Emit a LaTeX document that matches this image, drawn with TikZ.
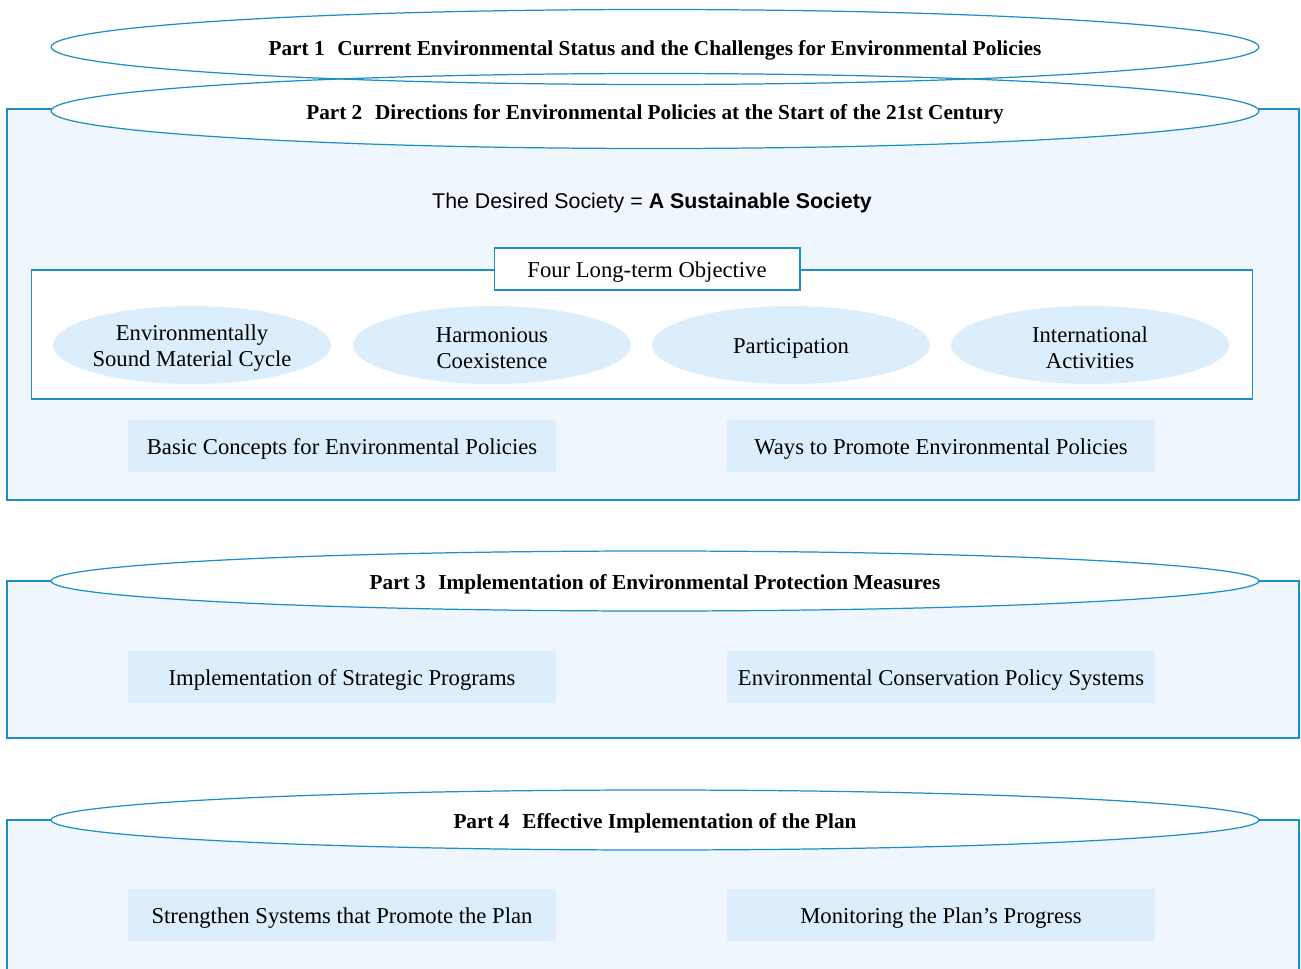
\documentclass[tikz,border=0pt]{standalone}
\usepackage{fontspec}
\setmainfont{Liberation Serif}
\setsansfont{Liberation Sans}
\usetikzlibrary{shapes.geometric}
\definecolor{lineblue}{HTML}{1E8FC6}
\definecolor{panelfill}{HTML}{EFF6FD}
\definecolor{boxfill}{HTML}{DCEEFB}
\tikzset{
  panel/.style={draw=lineblue, line width=0.7pt, fill=panelfill},
  parttitle/.style={ellipse, draw=lineblue, line width=0.7pt, fill=white, minimum width=24.16cm, inner sep=0pt, font=\bfseries\fontsize{12.1}{14}\selectfont},
  objframe/.style={draw=lineblue, line width=0.6pt, fill=white},
  objlabel/.style={draw=lineblue, line width=0.6pt, fill=white, minimum width=6.12cm, minimum height=0.84cm, inner sep=0pt, font=\fontsize{12.9}{15}\selectfont},
  objell/.style={ellipse, fill=boxfill, minimum width=5.56cm, minimum height=1.56cm, inner sep=0pt, align=center, font=\fontsize{12.9}{14.8}\selectfont},
  itembox/.style={fill=boxfill, minimum width=8.56cm, minimum height=1.04cm, inner sep=0pt, font=\fontsize{12.9}{15}\selectfont},
  tx/.style={yshift=-0.06cm},
}
\begin{document}
\begin{tikzpicture}[x=0.02cm, y=-0.02cm]
\useasboundingbox (0,0) rectangle (1301,969);
% panels
\path[panel] (7,109) rectangle (1299,500);
\path[panel] (7,581) rectangle (1299,738);
\path[panel] (7,820) rectangle (1299,985);
% part title ellipses (fill first, outlines after)
\fill[white] (655,47) ellipse [x radius=604, y radius=37.5];
\fill[white] (655,111) ellipse [x radius=604, y radius=37.5];
\node[parttitle, minimum height=1.5cm, fill=none] (p1) at (655,47) {};
\node[parttitle, minimum height=1.5cm, fill=none] (p2) at (655,111) {};
\node[font=\bfseries\fontsize{12.1}{14}\selectfont, tx] (t1) at (p1.center) {Part 1\hspace{0.6em}Current Environmental Status and the Challenges for Environmental Policies};
\node[font=\bfseries\fontsize{12.1}{14}\selectfont, tx] (t2) at (p2.center) {Part 2\hspace{0.6em}Directions for Environmental Policies at the Start of the 21st Century};
% desired society
\node[font=\sffamily\fontsize{12.15}{14}\selectfont, tx] (soc) at (652,200) {The Desired Society = \textbf{A Sustainable Society}};
% objectives frame
\node[objframe, minimum width=24.44cm, minimum height=2.58cm, inner sep=0pt] (frame) at (642,334.5) {};
\node[objlabel] (obj) at (647,269) {};
\node[font=\fontsize{12.9}{15}\selectfont, tx] (objt) at (obj.center) {Four Long-term Objective};
\node[objell] (o1) at (192,345) {};
\node[objell] (o2) at (492,345) {};
\node[objell] (o3) at (791,345) {};
\node[objell] (o4) at (1090,345) {};
\node[align=center, font=\fontsize{12.9}{14.8}\selectfont, tx] (o1t) at (o1.center) {Environmentally\\Sound Material Cycle};
\node[align=center, font=\fontsize{12.9}{14.8}\selectfont, tx] (o2t) at (o2.center) {Harmonious\\Coexistence};
\node[align=center, font=\fontsize{12.9}{14.8}\selectfont, tx] (o3t) at (o3.center) {Participation};
\node[align=center, font=\fontsize{12.9}{14.8}\selectfont, tx] (o4t) at (o4.center) {International\\Activities};
\node[itembox] (b1) at (342,446) {};
\node[itembox] (b2) at (941,446) {};
\node[font=\fontsize{12.9}{15}\selectfont, tx] (b1t) at (b1.center) {Basic Concepts for Environmental Policies};
\node[font=\fontsize{12.9}{15}\selectfont, tx] (b2t) at (b2.center) {Ways to Promote Environmental Policies};
% part 3
\node[parttitle, minimum height=1.2cm] (p3) at (655,581) {};
\node[font=\bfseries\fontsize{12.1}{14}\selectfont, tx] (t3) at (p3.center) {Part 3\hspace{0.6em}Implementation of Environmental Protection Measures};
\node[itembox] (c1) at (342,677) {};
\node[itembox] (c2) at (941,677) {};
\node[font=\fontsize{12.9}{15}\selectfont, tx] (c1t) at (c1.center) {Implementation of Strategic Programs};
\node[font=\fontsize{12.9}{15}\selectfont, tx] (c2t) at (c2.center) {Environmental Conservation Policy Systems};
% part 4
\node[parttitle, minimum height=1.2cm] (p4) at (655,820) {};
\node[font=\bfseries\fontsize{12.1}{14}\selectfont, tx] (t4) at (p4.center) {Part 4\hspace{0.6em}Effective Implementation of the Plan};
\node[itembox] (d1) at (342,915) {};
\node[itembox] (d2) at (941,915) {};
\node[font=\fontsize{12.9}{15}\selectfont, tx] (d1t) at (d1.center) {Strengthen Systems that Promote the Plan};
\node[font=\fontsize{12.9}{15}\selectfont, tx] (d2t) at (d2.center) {Monitoring the Plan’s Progress};
\end{tikzpicture}
\end{document}
